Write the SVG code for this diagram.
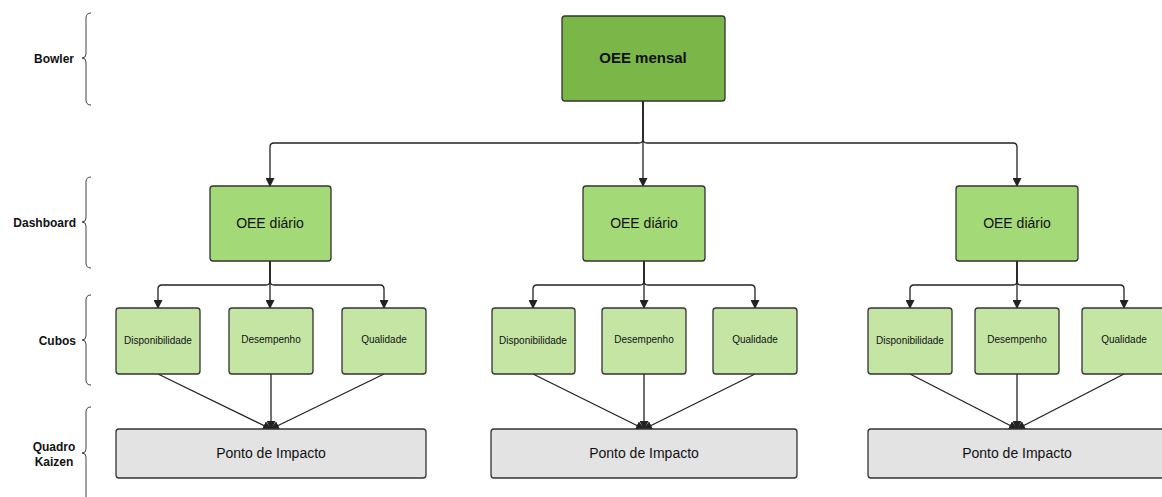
<svg xmlns="http://www.w3.org/2000/svg" width="1162" height="497" viewBox="0 0 1162 497">
<style>
.lbl{font-family:"Liberation Sans",Arial,sans-serif;font-weight:bold;font-size:12px;fill:#111;text-anchor:end}
.brace{fill:none;stroke:#444;stroke-width:1}
.box{stroke:#333;stroke-width:1.3}
.top{fill:#7ab648}
.day{fill:#a3d977}
.cube{fill:#c5e5a5}
.imp{fill:#e3e3e3}
.t{font-family:"Liberation Sans",Arial,sans-serif;fill:#111;text-anchor:middle}
.conn{fill:none;stroke:#222;stroke-width:1.3}
</style>
<defs>
<marker id="ah" markerWidth="9" markerHeight="9" refX="8" refY="4.5" orient="auto" markerUnits="userSpaceOnUse">
<path d="M0,0 L9,4.5 L0,9 z" fill="#222"/>
</marker>
</defs>
<rect width="1162" height="497" fill="#fff"/>
<g id="labels">
<text class="lbl" x="74" y="63">Bowler</text>
<path class="brace" d="M91 13 Q86 13 86 18 L86 54 Q86 58 82 58 Q86 58 86 62 L86 100 Q86 105 91 105"/>
<text class="lbl" x="76" y="227">Dashboard</text>
<path class="brace" d="M91 177 Q86 177 86 182 L86 218 Q86 222 82 222 Q86 222 86 226 L86 263 Q86 268 91 268"/>
<text class="lbl" x="76" y="345">Cubos</text>
<path class="brace" d="M91 295 Q86 295 86 300 L86 336 Q86 340 82 340 Q86 340 86 344 L86 380 Q86 385 91 385"/>
<text class="lbl" x="54" y="451" text-anchor="middle" style="text-anchor:middle">Quadro</text>
<text class="lbl" x="54" y="466" style="text-anchor:middle">Kaizen</text>
<path class="brace" d="M91 407 Q86 407 86 412 L86 449 Q86 453 82 453 Q86 453 86 457 L86 497"/>
</g>
<g id="connectors">
<path class="conn" d="M643 101 V139 Q643 143 639 143 H274 Q270 143 270 147 V186" marker-end="url(#ah)"/>
<path class="conn" d="M643 101 V139 Q643 143 647 143 H1013 Q1017 143 1017 147 V186" marker-end="url(#ah)"/>
<path class="conn" d="M643 101 V186" marker-end="url(#ah)"/>
<path class="conn" d="M270 261 V281 Q270 285 266 285 H162 Q158 285 158 289 V308" marker-end="url(#ah)"/>
<path class="conn" d="M270 261 V281 Q270 285 274 285 H380 Q384 285 384 289 V308" marker-end="url(#ah)"/>
<path class="conn" d="M270 261 V308" marker-end="url(#ah)"/>
<path class="conn" d="M644 261 V281 Q644 285 640 285 H537 Q533 285 533 289 V308" marker-end="url(#ah)"/>
<path class="conn" d="M644 261 V281 Q644 285 648 285 H751 Q755 285 755 289 V308" marker-end="url(#ah)"/>
<path class="conn" d="M644 261 V308" marker-end="url(#ah)"/>
<path class="conn" d="M1017 261 V281 Q1017 285 1013 285 H914 Q910 285 910 289 V308" marker-end="url(#ah)"/>
<path class="conn" d="M1017 261 V281 Q1017 285 1021 285 H1120 Q1124 285 1124 289 V308" marker-end="url(#ah)"/>
<path class="conn" d="M1017 261 V308" marker-end="url(#ah)"/>
<path class="conn" d="M158 374 L271 429" marker-end="url(#ah)"/>
<path class="conn" d="M271 374 L271 429" marker-end="url(#ah)"/>
<path class="conn" d="M384 374 L271 429" marker-end="url(#ah)"/>
<path class="conn" d="M533 374 L644 429" marker-end="url(#ah)"/>
<path class="conn" d="M644 374 L644 429" marker-end="url(#ah)"/>
<path class="conn" d="M755 374 L644 429" marker-end="url(#ah)"/>
<path class="conn" d="M910 374 L1017 429" marker-end="url(#ah)"/>
<path class="conn" d="M1017 374 L1017 429" marker-end="url(#ah)"/>
<path class="conn" d="M1124 374 L1017 429" marker-end="url(#ah)"/>
</g>
<g id="oee-mensal"><rect class="box top" x="562" y="16" width="163" height="85" rx="3"/><text class="t" x="643" y="63" font-size="15" font-weight="bold">OEE mensal</text></g>
<g id="oee-diario-1"><rect class="box day" x="210" y="186" width="121" height="75" rx="3"/><text class="t" x="270" y="228" font-size="14">OEE diário</text></g>
<g id="oee-diario-2"><rect class="box day" x="583" y="186" width="122" height="75" rx="3"/><text class="t" x="644" y="228" font-size="14">OEE diário</text></g>
<g id="oee-diario-3"><rect class="box day" x="956" y="186" width="122" height="75" rx="3"/><text class="t" x="1017" y="228" font-size="14">OEE diário</text></g>
<g id="disp-1"><rect class="box cube" x="116" y="308" width="84" height="66" rx="3"/><text class="t" x="158" y="344" font-size="10">Disponibilidade</text></g>
<g id="desemp-1"><rect class="box cube" x="229" y="308" width="84" height="66" rx="3"/><text class="t" x="271" y="343" font-size="10">Desempenho</text></g>
<g id="qual-1"><rect class="box cube" x="342" y="308" width="84" height="66" rx="3"/><text class="t" x="384" y="343" font-size="10">Qualidade</text></g>
<g id="disp-2"><rect class="box cube" x="492" y="308" width="83" height="66" rx="3"/><text class="t" x="533" y="344" font-size="10">Disponibilidade</text></g>
<g id="desemp-2"><rect class="box cube" x="602" y="308" width="84" height="66" rx="3"/><text class="t" x="644" y="343" font-size="10">Desempenho</text></g>
<g id="qual-2"><rect class="box cube" x="713" y="308" width="84" height="66" rx="3"/><text class="t" x="755" y="343" font-size="10">Qualidade</text></g>
<g id="disp-3"><rect class="box cube" x="868" y="308" width="84" height="66" rx="3"/><text class="t" x="910" y="344" font-size="10">Disponibilidade</text></g>
<g id="desemp-3"><rect class="box cube" x="975" y="308" width="84" height="66" rx="3"/><text class="t" x="1017" y="343" font-size="10">Desempenho</text></g>
<g id="qual-3"><rect class="box cube" x="1082" y="308" width="84" height="66" rx="3"/><text class="t" x="1124" y="343" font-size="10">Qualidade</text></g>
<g id="ponto-1"><rect class="box imp" x="116" y="429" width="310" height="49" rx="3"/><text class="t" x="271" y="458" font-size="14">Ponto de Impacto</text></g>
<g id="ponto-2"><rect class="box imp" x="491" y="429" width="306" height="49" rx="3"/><text class="t" x="644" y="458" font-size="14">Ponto de Impacto</text></g>
<g id="ponto-3"><rect class="box imp" x="868" y="429" width="310" height="49" rx="3"/><text class="t" x="1017" y="458" font-size="14">Ponto de Impacto</text></g>
</svg>
